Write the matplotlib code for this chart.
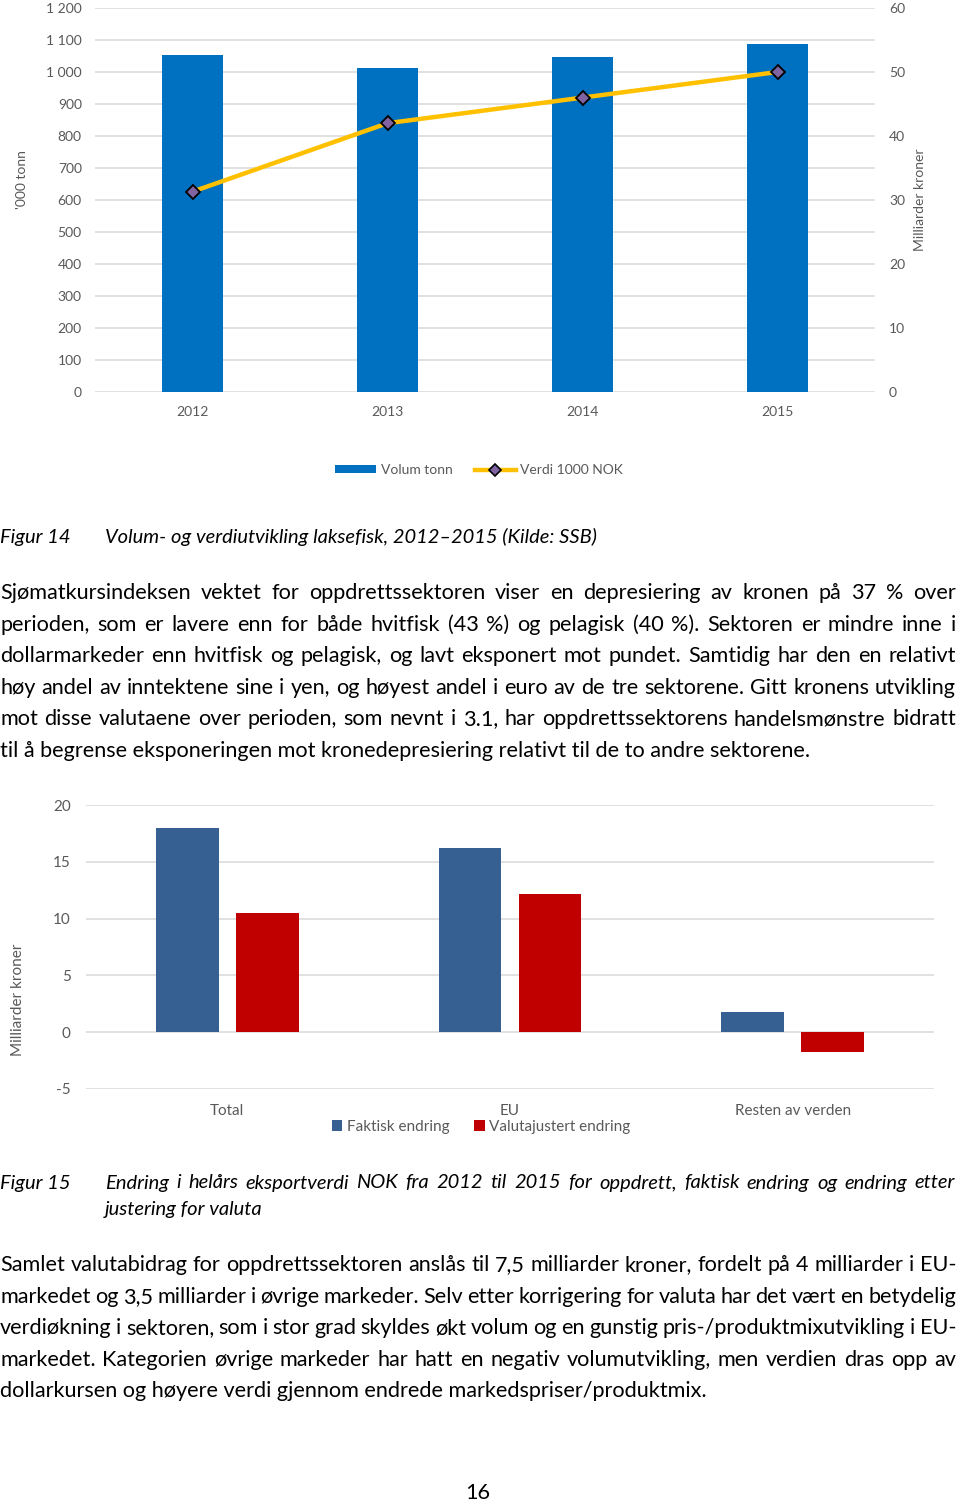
import matplotlib
matplotlib.use('Agg')
import matplotlib.pyplot as plt
import numpy as np
from matplotlib.ticker import FuncFormatter
from matplotlib.lines import Line2D
from matplotlib.patches import Patch

FONT = ['Lato', 'DejaVu Sans']
plt.rcParams['font.family'] = FONT
plt.rcParams['axes.unicode_minus'] = False

# ---------------- data ----------------
years = ['2012', '2013', '2014', '2015']
volum_tonn = [1053, 1013, 1048, 1088]          # '000 tonn (left axis)
verdi_mrd = [31.3, 42.0, 46.0, 50.0]           # milliarder kroner (right axis)
left_ticks = list(range(0, 1201, 100))
right_ticks = list(range(0, 61, 10))

regions = ['Total', 'EU', 'Resten av verden']
faktisk_endring = [18.0, 16.2, 1.8]
valutajustert_endring = [10.5, 12.2, -1.7]
ch2_ticks = [-5, 0, 5, 10, 15, 20]

caption14_label = 'Figur 14'
caption14_text = 'Volum- og verdiutvikling laksefisk, 2012–2015 (Kilde: SSB)'
para1 = [
    'Sjømatkursindeksen vektet for oppdrettssektoren viser en depresiering av kronen på 37 % over',
    'perioden, som er lavere enn for både hvitfisk (43 %) og pelagisk (40 %). Sektoren er mindre inne i',
    'dollarmarkeder enn hvitfisk og pelagisk, og lavt eksponert mot pundet. Samtidig har den en relativt',
    'høy andel av inntektene sine i yen, og høyest andel i euro av de tre sektorene. Gitt kronens utvikling',
    'mot disse valutaene over perioden, som nevnt i 3.1, har oppdrettssektorens handelsmønstre bidratt',
    'til å begrense eksponeringen mot kronedepresiering relativt til de to andre sektorene.',
]
caption15_label = 'Figur 15'
caption15_lines = [
    'Endring i helårs eksportverdi NOK fra 2012 til 2015 for oppdrett, faktisk endring og endring etter',
    'justering for valuta',
]
para2 = [
    'Samlet valutabidrag for oppdrettssektoren anslås til 7,5 milliarder kroner, fordelt på 4 milliarder i EU-',
    'markedet og 3,5 milliarder i øvrige markeder. Selv etter korrigering for valuta har det vært en betydelig',
    'verdiøkning i sektoren, som i stor grad skyldes økt volum og en gunstig pris-/produktmixutvikling i EU-',
    'markedet. Kategorien øvrige markeder har hatt en negativ volumutvikling, men verdien dras opp av',
    'dollarkursen og høyere verdi gjennom endrede markedspriser/produktmix.',
]
page_number = '16'

# ---------------- figure ----------------
W, H = 960, 1503
fig = plt.figure(figsize=(W / 100, H / 100), dpi=100)
renderer = fig.canvas.get_renderer()

GRAY = '#595959'
GRID = '#D9D9D9'


def rect(x0, x1, ytop, ybot):
    return [x0 / W, 1 - ybot / H, (x1 - x0) / W, (ybot - ytop) / H]


def fx(x):
    return x / W


def fy(y):
    return 1 - y / H


def twidth(s, **kw):
    t = fig.text(0, 0, s, **kw)
    w = t.get_window_extent(renderer).width
    t.remove()
    return w


def fit_size(s, target, **kw):
    base = 20
    w = twidth(s, fontsize=base, **kw)
    return base * target / w


def draw_line(s, x0, x1, y, justify, **kw):
    if not justify:
        fig.text(fx(x0), fy(y), s, ha='left', va='center', **kw)
        return
    words = s.split(' ')
    ws = [twidth(w, **kw) for w in words]
    gap = (x1 - x0 - sum(ws)) / (len(words) - 1)
    x = x0
    for w, wd in zip(words, ws):
        fig.text(fx(x), fy(y), w, ha='left', va='center', **kw)
        x += wd + gap


def style_axis(ax):
    for s in ax.spines.values():
        s.set_visible(False)
    ax.tick_params(length=0, colors=GRAY)
    ax.grid(axis='y', color=GRID, linewidth=1.1)
    ax.set_axisbelow(True)


# ---------- chart 1 ----------
ax1 = fig.add_axes(rect(95, 875, 8, 392))
x1 = np.arange(len(years))
ax1.bar(x1, volum_tonn, width=0.316, color='#0070C0', zorder=2, label='Volum tonn')
ax1.set_xlim(-0.5, len(years) - 0.5)
ax1.set_ylim(0, 1200)
ax1.set_yticks(left_ticks)
ax1.yaxis.set_major_formatter(FuncFormatter(lambda v, p: f'{int(v):,}'.replace(',', ' ')))
ax1.set_xticks(x1)
ax1.set_xticklabels(years)
style_axis(ax1)
ax1.tick_params(axis='y', labelsize=10, pad=9.5)
ax1.tick_params(axis='x', labelsize=10, pad=10)

ax1r = ax1.twinx()
ax1r.plot(x1, verdi_mrd, color='#FFC000', linewidth=3.2, marker='D', markersize=7,
          markerfacecolor='#8064A2', markeredgecolor='black', markeredgewidth=1.3, zorder=3)
ax1r.set_ylim(0, 60)
ax1r.set_yticks(right_ticks)
for s in ax1r.spines.values():
    s.set_visible(False)
ax1r.tick_params(length=0, colors=GRAY, labelsize=10, pad=10)

fig.text(fx(22), fy(180), "'000 tonn", rotation=90, ha='center', va='center', color=GRAY, fontsize=10)
fig.text(fx(920), fy(200), 'Milliarder kroner', rotation=90, ha='center', va='center', color=GRAY, fontsize=10)

h1 = [Patch(facecolor='#0070C0'),
      Line2D([], [], color='#FFC000', linewidth=3.2, marker='D', markersize=6,
             markerfacecolor='#8064A2', markeredgecolor='black', markeredgewidth=1.2)]
fig.legend(h1, ['Volum tonn', 'Verdi 1000 NOK'], loc='center', bbox_to_anchor=(fx(479), fy(470)),
           ncol=2, frameon=False, fontsize=10, labelcolor=GRAY, handlelength=3.0, handleheight=0.5,
           handletextpad=0.3, columnspacing=1.6)

# captions + paragraph 1
cap_kw = dict(style='italic', color='black')
cap_fs = fit_size(caption14_text, 492, **cap_kw)
body_fs = fit_size(para1[-1], 810, color='black')

draw_line(caption14_label, 0, 0, 537, False, fontsize=cap_fs, **cap_kw)
draw_line(caption14_text, 105, 0, 537, False, fontsize=cap_fs, **cap_kw)

y0 = 593
for i, line in enumerate(para1):
    draw_line(line, 0, 956, y0 + i * 31.6, i < len(para1) - 1, fontsize=body_fs, color='black')

# ---------- chart 2 ----------
ax2 = fig.add_axes(rect(86, 934, 805, 1089))
x2 = np.arange(len(regions))
bw = 0.222
off = 0.1415
ax2.bar(x2 - off, faktisk_endring, width=bw, color='#376092', zorder=2, label='Faktisk endring')
ax2.bar(x2 + off, valutajustert_endring, width=bw, color='#C00000', zorder=2, label='Valutajustert endring')
ax2.set_xlim(-0.5, len(regions) - 0.5)
ax2.set_ylim(-5, 20)
ax2.set_yticks(ch2_ticks)
ax2.set_xticks(x2)
ax2.set_xticklabels(regions)
style_axis(ax2)
ax2.tick_params(axis='y', labelsize=11, pad=11)
ax2.tick_params(axis='x', labelsize=11, pad=11)
fig.text(fx(18), fy(1000), 'Milliarder kroner', rotation=90, ha='center', va='center', color=GRAY, fontsize=11)

h2, l2 = ax2.get_legend_handles_labels()
fig.legend(h2, l2, loc='center', bbox_to_anchor=(fx(481), fy(1127)), ncol=2, frameon=False,
           fontsize=11, labelcolor=GRAY, handlelength=0.7, handleheight=0.7,
           handletextpad=0.3, columnspacing=1.6)

# caption 15 + paragraph 2
draw_line(caption15_label, 0, 0, 1183, False, fontsize=cap_fs, **cap_kw)
draw_line(caption15_lines[0], 105, 955, 1183, True, fontsize=cap_fs, **cap_kw)
draw_line(caption15_lines[1], 105, 0, 1209, False, fontsize=cap_fs, **cap_kw)

y0 = 1265
for i, line in enumerate(para2):
    draw_line(line, 0, 956, y0 + i * 31.6, i < len(para2) - 1, fontsize=body_fs, color='black')

fig.text(fx(478), fy(1493), page_number, ha='center', va='center', fontsize=body_fs, color='black')

fig.savefig('out.png', dpi=100)
